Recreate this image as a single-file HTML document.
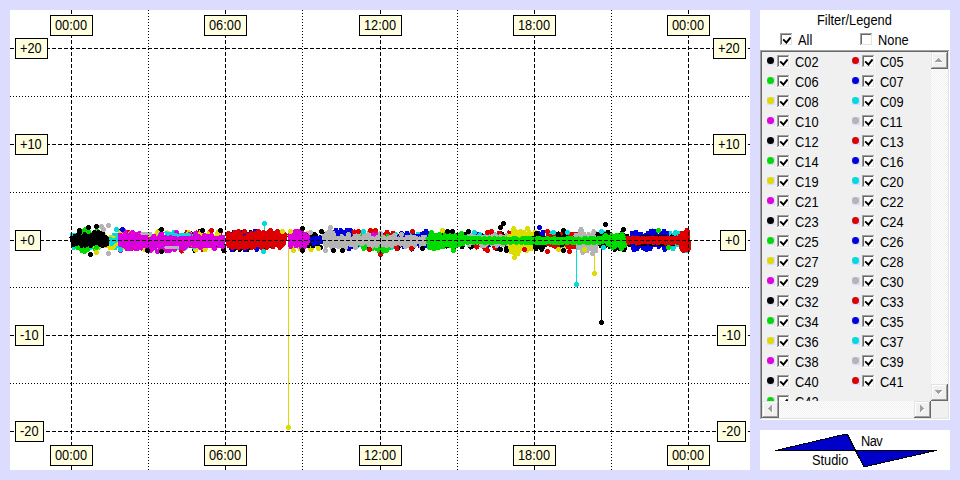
<!DOCTYPE html>
<html><head><meta charset="utf-8"><title>Nav Studio</title>
<style>
html,body{margin:0;padding:0}
body{width:960px;height:480px;background:#dcdcff;position:relative;overflow:hidden;font-family:"Liberation Sans",sans-serif;font-size:14px;color:#000}
div,i,span{position:absolute;box-sizing:content-box;display:block;font-style:normal}
#plot{left:10px;top:10px;width:740px;height:460px;background:#fff}
#chart{position:absolute;left:0;top:0}
.lb{height:19px;line-height:19px;border:1px solid #000;background:#ffffe0;text-align:left;padding-left:4px;white-space:nowrap}
#side{left:760px;top:10px;width:190px;height:410px;background:#fff}
#nav{left:760px;top:430px;width:190px;height:40px;background:#fff}
.t{line-height:16px;height:16px;white-space:nowrap;transform:scaleX(.915);transform-origin:0 0}
.lb b{font-weight:normal;display:inline-block;transform:scaleX(.915);transform-origin:0 0}
.cb{width:13px;height:13px;background:#fff;box-shadow:inset -1px -1px 0 #fff,inset 1px 1px 0 #a0a0a0,inset -2px -2px 0 #e3e3e3,inset 2px 2px 0 #696969}
.ck{position:absolute;left:2px;top:2px}
#list{left:0;top:40px;width:190px;height:370px;background:#f0f0f0;box-shadow:inset -1px -1px 0 #fff,inset 1px 1px 0 #a0a0a0,inset -2px -2px 0 #e3e3e3,inset 2px 2px 0 #696969}
#cl{left:2px;top:2px;width:186px;height:366px}
#view{left:0;top:0;width:169px;height:349px;overflow:hidden}
.it{width:80px;height:16px}
.sq{left:0;top:2px;width:8px;height:8px;background:#dcdcff}
.dt{left:0;top:0;width:7px;height:7px;border-radius:50%}
.it .cb{left:10px;top:0}
.it span{left:28px;top:-1px;line-height:16px;transform:scaleX(.915);transform-origin:0 0}
.sbv{left:169px;top:0;width:17px;height:349px}
.sbh{left:0;top:349px;width:169px;height:17px}
.tr{background-color:#f8f8f8;background-image:linear-gradient(45deg,#f0f0f0 25%,transparent 25%,transparent 75%,#f0f0f0 75%),linear-gradient(45deg,#f0f0f0 25%,#fff 25%,#fff 75%,#f0f0f0 75%);background-size:2px 2px;background-position:0 0,1px 1px}
.bt{width:17px;height:17px;background:#f0f0f0;box-shadow:inset -1px -1px 0 #696969,inset 1px 1px 0 #e3e3e3,inset -2px -2px 0 #a0a0a0,inset 2px 2px 0 #fff}
.bt svg{position:absolute;left:1px;top:1px}
.cn{left:169px;top:349px;width:17px;height:17px;background:#f0f0f0}
</style></head><body>
<div id="plot"></div>
<svg id="chart" width="960" height="480" viewBox="0 0 960 480" shape-rendering="crispEdges">
<g fill="none" stroke-linejoin="round" stroke-linecap="round"><path d="M288 245h1v182h-1zM287 425h3v1h1v3h-1v1h-3v-1h-1v-3h1z" fill="#dcdc00" stroke="none"/><path d="M576 248h1v36.5h-1zM575 282h3v1h1v3h-1v1h-3v-1h-1v-3h1z" fill="#00dcdc" stroke="none"/><path d="M594 248h1v25.5h-1zM593 271h3v1h1v3h-1v1h-3v-1h-1v-3h1z" fill="#dcdc00" stroke="none"/><path d="M601 248h1v74.5h-1zM600 320h3v1h1v3h-1v1h-3v-1h-1v-3h1z" fill="#000000" stroke="none"/><path d="M264 223h1v13h-1zM263 221h3v1h1v3h-1v1h-3v-1h-1v-3h1z" fill="#00dcdc" stroke="none"/><path d="M72,235 74,247.5 76,235.5 77,246 78,239 79,247 81,238 83,247 85,235 86,245.5 88,238 90,248 91,238 92,245 94,239 95,244.5 97,238 99,247.5 101,235.5 102,244 104,238 106,244.5 107,239.5 109,246 110,239.5 112,247.5 114,235.5 115,248 117,235.5 119,246" stroke="#00dcdc" stroke-width="5"/><path d="M76,237 78,247.5 80,237 82,251 83,231.5 85,251 87,235.5 89,246.5 90,233.5 92,245 94,235 95,248.5 97,231" stroke="#00dc00" stroke-width="5"/><path d="M94,233 96,247.5 97,237 98,247.5 100,234 102,244.5 103,233.5 104,245.5 105,236.5 107,246 108,238 110,247.5 111,237 113,247.5 115,238 117,243.5" stroke="#dcdc00" stroke-width="5"/><path d="M110,239.5 112,243.5 113,240 115,241 117,239" stroke="#00dcdc" stroke-width="5"/><path d="M120,231 126,245 131,237 135,244.5 140,235.5 144,247.5 150,235 155,245.5 159,231 165,248.5 171,236 176,248.5 179,236 184,247 191,234 195,250.5 200,231.5 204,247.5 209,237.5 214,246.5 219,233 224,251" stroke="#000000" stroke-width="5"/><path d="M128,232.5 133,247.5 138,237.5 142,248 146,236.5 152,245 156,236.5 161,247 167,238 172,245 176,238 182,251 187,232.5 191,245.5 197,233 203,250 209,233 214,244.5 220,232.5" stroke="#dc0000" stroke-width="5"/><path d="M120,232 125,248 130,234 135,246 138,237.5 145,249.5 148,235 152,244 158,232 164,245 168,233 173,249 178,234.5 184,249 189,232.5 196,250 201,232 205,250 209,233 213,247.5 218,232.5 222,245.5" stroke="#dcdc00" stroke-width="5"/><path d="M152,237.5 156,244.5 160,235.5 164,242.5 167,236.5 172,244.5 174,232 179,248 182,237 186,247.5 190,234.5 194,247" stroke="#00dcdc" stroke-width="5"/><path d="M228,235 234,249.5 236,236 240,249.5 243,232 247,250 251,232.5 255,245 259,235.5 263,247.5 267,234 272,245.5 277,234.5 281,244.5 285,236.5" stroke="#000000" stroke-width="5"/><path d="M230,236 232,250 234,232 236,245 238,233 241,245.5 243,233.5 245,250 247,234 249,246 251,236 253,245 255,231.5 257,249.5 258,231.5 261,245 262,235" stroke="#0000dc" stroke-width="5"/><path d="M272,234 276,243 279,237.5" stroke="#dcdc00" stroke-width="5"/><path d="M290,236 293,247 296,233.5 300,249 303,237.5 305,246 308,233.5 311,250 313,234 315,244.5" stroke="#dcdc00" stroke-width="5"/><path d="M298,237 302,248.5 305,236.5 308,246 310,233 313,246 315,234.5 318,243.5 321,237.5" stroke="#000000" stroke-width="5"/><path d="M342,238 345,244.5 349,237 352,245.5 355,234.5 359,245 363,234.5 366,248 369,237.5 372,243 375,234 378,248 381,234.5 385,245 389,237 392,247.5 396,234.5 400,245.5 403,234.5 406,243.5 411,234 415,244.5 418,234.5 423,243.5" stroke="#00dcdc" stroke-width="5"/><path d="M324,234 327,244.5 332,238 336,245 338,237 343,246 345,235 349,249 353,237.5 356,247 359,239 363,245.5 366,235 370,249 373,237.5 376,244 379,234.5 382,246.5 386,237.5 389,246 393,234.5 398,248 401,234.5 404,244 407,236.5 412,249 414,239 418,243.5 423,234" stroke="#000000" stroke-width="5"/><path d="M332,232 334,246 336,230 337,243.5 338,233 340,244 341,230.5 343,247 344,232 346,244.5 347,230 349,249 351,230.5 353,246.5" stroke="#0000dc" stroke-width="5"/><path d="M386,234 388,242.5 390,236 392,242 394,236.5 396,242 398,237.5 400,243 402,233.5 404,246.5 407,233 408,243.5 411,237.5 412,246.5 414,235.5 416,242.5 418,236 420,245.5 422,234 425,246 426,231.5 428,245.5 431,234 433,241 435,236.5 437,244" stroke="#0000dc" stroke-width="5"/><path d="M354,232 359,243.5 362,236 365,243.5 368,236.5 371,246.5 374,232.5 377,249 381,234.5 384,248 387,232 391,244.5 393,233 397,248.5" stroke="#dc0000" stroke-width="5"/><path d="M358,233.5 360,243.5 362,235.5 364,248.5 366,238 367,245 369,233.5 370,246.5 372,237 373,248.5 375,233.5 377,248.5 378,239.5 380,253 382,238 383,251.5 385,238.5 387,250.5 388,236.5 389,248" stroke="#00dc00" stroke-width="5"/><path d="M372,233.5 374,235 376,234.5 377,235.5 379,234.5" stroke="#dc00dc" stroke-width="5"/><path d="M442,235 447,246 451,236.5 455,246.5 458,235.5 462,247 466,234 471,247 475,238.5 478,243.5 482,235.5 487,243.5 492,234 497,248.5 502,234 506,246.5" stroke="#000000" stroke-width="5"/><path d="M472,236.5 476,245 478,234 482,243.5 485,236.5 489,245 493,237.5 497,247 501,238.5 504,244.5 507,237.5 510,246 514,235 519,244 522,234 525,244.5" stroke="#0000dc" stroke-width="5"/><path d="M472,235.5 477,247 480,235.5 485,248.5 490,233.5 495,248 499,233 505,244 509,233" stroke="#dc0000" stroke-width="5"/><path d="M468,237 474,242.5 480,235 483,244 487,235 491,242.5 495,234.5" stroke="#00dcdc" stroke-width="5"/><path d="M442,239 444,242 444,239 446,243.5 447,239 449,242.5 450,236 451,241.5 453,238.5 454,242.5 455,239 456,243.5 457,238.5 459,243 461,237.5 462,242.5 464,238 465,242 466,238 468,242.5 469,237 469,245 471,235 472,242.5 473,237 474,242 476,237 478,242 479,237 479,242 481,238 482,246 484,237 485,245.5 486,237.5 487,243 489,236.5 490,242 491,237.5 492,244 494,234.5 495,241.5 496,237.5 497,245.5 498,237 500,243.5 501,236.5 503,245 504,237.5 506,243 507,235.5 508,243.5" stroke="#b4b4b4" stroke-width="5"/><path d="M522,234.5 526,248.5 528,236 531,248.5 533,236 536,248.5 539,233.5 541,246 543,232" stroke="#0000dc" stroke-width="5"/><path d="M524,232 527,250.5 529,232 532,248.5 535,232.5" stroke="#dcdc00" stroke-width="5"/><path d="M534,238 536,249 537,233.5 538,245 540,237.5 542,249.5 543,238.5 545,245" stroke="#000000" stroke-width="5"/><path d="M550,234 555,243 559,237 562,246 565,237.5 569,244 572,237" stroke="#00dcdc" stroke-width="5"/><path d="M552,240 557,244.5 561,240 565,246.5" stroke="#dcdc00" stroke-width="5"/><path d="M548,236.5 548,244 550,237 551,244.5 553,234.5 554,245.5 555,234 556,247 558,234.5 559,247 560,236.5 561,244.5 562,234.5 563,244.5 565,234.5 566,243.5 567,234 568,246.5 570,236 571,246.5 572,234.5 573,247 574,234.5 575,246.5 577,234.5 578,245.5" stroke="#dc0000" stroke-width="5"/><path d="M558,234 562,245 566,232" stroke="#000000" stroke-width="5"/><path d="M582,240 584,246 585,240.5 587,245.5 589,239.5" stroke="#dcdc00" stroke-width="5"/><path d="M576,235.5 579,247.5 581,229 583,252.5 584,234 587,251 589,234.5 592,249 594,231.5 596,251" stroke="#b4b4b4" stroke-width="5"/><path d="M600,236.5 603,244 606,233" stroke="#00dcdc" stroke-width="5"/><path d="M598,234.5 601,246 603,234 606,245.5 608,232 610,247 612,236 615,249.5 617,236 620,249 622,233 624,250 627,236 630,245 632,236 634,247 637,236.5" stroke="#000000" stroke-width="5"/><path d="M652,231 658,243.5 663,236 668,247.5" stroke="#00dc00" stroke-width="5"/><path d="M670,233.5 673,249 675,233 678,245 680,233.5 682,245 684,235.5 687,251 688,234" stroke="#00dcdc" stroke-width="5"/><path d="M632,233.5 634,250 636,232 637,249 639,236.5 640,245 641,234 643,248 644,236.5 645,249 646,235 647,249.5 648,233.5 650,249 651,231.5 653,244.5 655,231 656,244.5 658,237.5 659,246.5 661,234.5 662,244 664,231 665,249.5 667,233" stroke="#0000dc" stroke-width="5"/><path d="M636,239 638,244 640,239 641,244 643,237 645,244 647,237.5 648,242 649,237 651,244 653,238.5 654,243.5 656,237 657,243 658,237 660,243.5 662,237.5 664,244 665,237 667,242.5 668,238 670,242 672,237 673,244 674,239 675,242 677,238 678,243 679,239 681,243 682,239 683,244 685,239 686,244" stroke="#000000" stroke-width="5"/><path d="M680,236.5 682,249 684,233.5 685,247.5 687,230 688,249.5" stroke="#dc0000" stroke-width="5"/><path d="M72,238 74,244.5 75,236.5 77,243.5 78,235.5 79,243 81,237 82,245.5 83,237.5 84,243.5 85,234.5 86,245.5 87,235.5 88,244 90,236.5 91,245.5 92,235.5 94,244 95,236 96,244.5 97,237 98,245 99,235 100,245 101,235 103,245.5 104,237 105,245 106,237.5 107,244" stroke="#000000" stroke-width="5"/><path d="M72 242h3v1h1v3h-1v1h-3v-1h-1v-3h1zM78 230h3v1h1v3h-1v1h-3v-1h-1v-3h1zM86 232h3v1h1v3h-1v1h-3v-1h-1v-3h1zM93 230h3v1h1v3h-1v1h-3v-1h-1v-3h1zM97 230h3v1h1v3h-1v1h-3v-1h-1v-3h1zM101 231h3v1h1v3h-1v1h-3v-1h-1v-3h1z" fill="#000000" stroke="none"/><path d="M120,235.5 121,246 122,238.5 123,246 125,234.5 127,249 128,235 130,249 131,234.5 131,248.5 133,234.5 134,245 135,238 136,248.5 137,234 138,248.5 140,234.5 141,248 143,234.5 145,246 146,237 147,248 149,239 151,247 152,239 153,248.5 154,236 155,247.5 156,238.5 158,245 160,236 161,249.5 162,239.5 164,250 165,237 166,248 167,238 169,249 170,235 171,248.5 172,235.5 173,245 175,235.5 176,244 177,235 178,245 180,235.5 181,247 183,236 184,245 185,238 186,246.5 187,235.5 189,245 190,236 191,243.5 193,238.5 194,246 196,237 197,246 199,236.5 200,246 202,238 203,246 204,236 205,245.5 207,236 208,246 209,237.5 211,245.5 212,238 214,244.5 215,238.5 216,243.5 218,238.5 219,245.5 221,237 222,244 223,237" stroke="#dc00dc" stroke-width="5"/><path d="M119 248h3v1h1v3h-1v1h-3v-1h-1v-3h1zM123 229h3v1h1v3h-1v1h-3v-1h-1v-3h1zM131 230h3v1h1v3h-1v1h-3v-1h-1v-3h1zM138 231h3v1h1v3h-1v1h-3v-1h-1v-3h1zM146 247h3v1h1v3h-1v1h-3v-1h-1v-3h1zM149 248h3v1h1v3h-1v1h-3v-1h-1v-3h1zM156 249h3v1h1v3h-1v1h-3v-1h-1v-3h1zM160 231h3v1h1v3h-1v1h-3v-1h-1v-3h1zM165 248h3v1h1v3h-1v1h-3v-1h-1v-3h1zM168 248h3v1h1v3h-1v1h-3v-1h-1v-3h1zM173 247h3v1h1v3h-1v1h-3v-1h-1v-3h1zM175 230h3v1h1v3h-1v1h-3v-1h-1v-3h1zM179 245h3v1h1v3h-1v1h-3v-1h-1v-3h1zM182 246h3v1h1v3h-1v1h-3v-1h-1v-3h1zM188 232h3v1h1v3h-1v1h-3v-1h-1v-3h1zM194 231h3v1h1v3h-1v1h-3v-1h-1v-3h1zM199 245h3v1h1v3h-1v1h-3v-1h-1v-3h1zM203 233h3v1h1v3h-1v1h-3v-1h-1v-3h1zM210 233h3v1h1v3h-1v1h-3v-1h-1v-3h1zM213 246h3v1h1v3h-1v1h-3v-1h-1v-3h1zM219 243h3v1h1v3h-1v1h-3v-1h-1v-3h1zM221 244h3v1h1v3h-1v1h-3v-1h-1v-3h1z" fill="#dc00dc" stroke="none"/><path d="M166,232.5 168,234.5 170,233 173,234.5 175,234 178,235.5 181,234 184,234 187,234 190,235" stroke="#00dcdc" stroke-width="3"/><path d="M142,233.5 143,233.5 145,233.5 146,233.5 148,233.5 149,233.5 151,233.5" stroke="#b4b4b4" stroke-width="3"/><path d="M166,247.5 168,247.5 169,247.5 171,247.5 172,247.5 174,247.5 175,247.5 177,247.5 178,247.5" stroke="#b4b4b4" stroke-width="3"/><path d="M228,235.5 229,246 230,234.5 231,243.5 232,236 234,244 235,232.5 237,246.5 238,235.5 239,247.5 240,233.5 242,247 243,238 245,247.5 246,237.5 247,247 248,235 249,245.5 250,238 252,247.5 253,234.5 254,247 256,234.5 257,245 258,236.5 259,243.5 260,234 262,247.5 263,235.5 264,245.5 266,233.5 267,247.5 269,233.5 270,243 272,232.5 273,247 275,233.5 276,243.5 277,238 278,245 279,234 280,247.5 282,236 283,244.5 285,234.5" stroke="#dc0000" stroke-width="5"/><path d="M227 231h3v1h1v3h-1v1h-3v-1h-1v-3h1zM231 245h3v1h1v3h-1v1h-3v-1h-1v-3h1zM237 229h3v1h1v3h-1v1h-3v-1h-1v-3h1zM243 229h3v1h1v3h-1v1h-3v-1h-1v-3h1zM250 231h3v1h1v3h-1v1h-3v-1h-1v-3h1zM254 231h3v1h1v3h-1v1h-3v-1h-1v-3h1zM257 229h3v1h1v3h-1v1h-3v-1h-1v-3h1zM262 230h3v1h1v3h-1v1h-3v-1h-1v-3h1zM267 230h3v1h1v3h-1v1h-3v-1h-1v-3h1zM269 228h3v1h1v3h-1v1h-3v-1h-1v-3h1zM276 229h3v1h1v3h-1v1h-3v-1h-1v-3h1z" fill="#dc0000" stroke="none"/><path d="M290,235.5 291,246.5 292,234.5 294,242 295,233.5 296,246 298,233.5 299,242 300,237.5 301,246.5 303,234 304,246 305,234 307,243 308,236.5" stroke="#dc00dc" stroke-width="5"/><path d="M289 230h3v1h1v3h-1v1h-3v-1h-1v-3h1zM294 229h3v1h1v3h-1v1h-3v-1h-1v-3h1zM297 229h3v1h1v3h-1v1h-3v-1h-1v-3h1zM300 230h3v1h1v3h-1v1h-3v-1h-1v-3h1zM303 244h3v1h1v3h-1v1h-3v-1h-1v-3h1z" fill="#dc00dc" stroke="none"/><path d="M312,240 314,243.5 315,238.5 316,242 318,238.5 319,242.5 320,238.5 321,242" stroke="#0000dc" stroke-width="5"/><path d="M324,236 326,246 327,233 329,244.5 330,230.5 332,248 333,233.5 335,245.5 336,238.5 337,246 339,238 340,246 342,236.5 343,245.5 344,239 345,246 346,238.5 348,244 349,238 351,245 352,239 353,243.5 355,236 356,244.5 357,237 359,242.5 360,238 362,244 363,238 365,242 366,237 367,242 368,239 369,244.5 371,238 372,244 373,238.5 374,244.5 376,239 377,243 378,237 380,243 381,239 382,244.5 384,237.5 385,244.5 386,239 387,244 389,238.5 390,244 391,237 393,244.5 394,237 395,244 397,239.5 398,242 399,239 401,244 402,239.5 404,243.5 405,239 406,242 407,237 409,244 410,237 411,243.5 412,237.5 413,244 415,237.5 416,242 417,238.5 419,241.5 420,239 421,243.5 423,237 424,244 425,237.5" stroke="#b4b4b4" stroke-width="5"/><path d="M324 248h3v1h1v3h-1v1h-3v-1h-1v-3h1zM329 225h3v1h1v3h-1v1h-3v-1h-1v-3h1zM337 244h3v1h1v3h-1v1h-3v-1h-1v-3h1zM344 245h3v1h1v3h-1v1h-3v-1h-1v-3h1zM347 232h3v1h1v3h-1v1h-3v-1h-1v-3h1zM354 245h3v1h1v3h-1v1h-3v-1h-1v-3h1zM357 231h3v1h1v3h-1v1h-3v-1h-1v-3h1zM363 232h3v1h1v3h-1v1h-3v-1h-1v-3h1zM367 232h3v1h1v3h-1v1h-3v-1h-1v-3h1zM370 244h3v1h1v3h-1v1h-3v-1h-1v-3h1zM375 243h3v1h1v3h-1v1h-3v-1h-1v-3h1zM379 231h3v1h1v3h-1v1h-3v-1h-1v-3h1zM385 243h3v1h1v3h-1v1h-3v-1h-1v-3h1zM390 243h3v1h1v3h-1v1h-3v-1h-1v-3h1zM393 233h3v1h1v3h-1v1h-3v-1h-1v-3h1zM400 232h3v1h1v3h-1v1h-3v-1h-1v-3h1zM404 244h3v1h1v3h-1v1h-3v-1h-1v-3h1zM409 244h3v1h1v3h-1v1h-3v-1h-1v-3h1zM413 243h3v1h1v3h-1v1h-3v-1h-1v-3h1zM420 244h3v1h1v3h-1v1h-3v-1h-1v-3h1z" fill="#b4b4b4" stroke="none"/><path d="M428,239 430,246.5 431,234.5 433,244 434,237 435,248.5 436,235 438,248 439,235 440,247 441,237 443,247 444,237.5 445,244.5 447,235.5 448,245 449,235.5 451,245.5 452,235 453,247.5 455,235.5 456,246 457,237 459,245 460,235.5 461,244 462,238.5 463,244 465,237.5" stroke="#00dc00" stroke-width="5"/><path d="M428 245h3v1h1v3h-1v1h-3v-1h-1v-3h1zM430 230h3v1h1v3h-1v1h-3v-1h-1v-3h1zM432 246h3v1h1v3h-1v1h-3v-1h-1v-3h1zM438 232h3v1h1v3h-1v1h-3v-1h-1v-3h1zM444 231h3v1h1v3h-1v1h-3v-1h-1v-3h1zM452 248h3v1h1v3h-1v1h-3v-1h-1v-3h1zM460 231h3v1h1v3h-1v1h-3v-1h-1v-3h1z" fill="#00dc00" stroke="none"/><path d="M466,239 468,242.5 469,238.5 470,242 471,238.5 472,242 473,239 474,242.5 475,238.5 477,242 478,238.5 479,242 480,238.5 481,241.5 483,240 484,242 485,238.5 486,242.5 487,239 488,242 490,238.5 491,242.5 492,239 493,242.5 495,238.5 495,241.5 497,240 498,241.5 499,239 500,241.5 501,239.5 502,242 504,238.5 505,242.5 506,239.5 507,241.5 508,238.5 509,241.5 511,239 512,241.5 513,238.5 514,242.5 515,238.5 516,241.5 517,238.5 518,242.5 520,239 521,242.5 522,238.5 522,242.5 523,238.5 525,242.5 526,238.5 528,242 529,238.5 530,242.5 531,239 532,241.5 533,239.5 535,242 535,239 537,242.5 538,238.5 539,242.5 540,238.5 541,242.5 543,239.5 544,242.5 545,239.5 546,242.5 548,238.5 549,242 550,239.5 551,242 552,239.5 554,242.5 555,238.5 556,242.5 557,239.5 558,242.5 560,239.5 561,242.5 562,239 563,242.5 564,239 566,242 567,239 568,242.5 569,238.5 571,241.5 572,238.5 573,242.5 574,239 575,242.5 577,239.5 578,242 579,239 580,242.5 581,240 582,242 584,239 585,242 586,238.5 587,242.5 588,239 590,242.5 591,238.5 593,242 594,238.5 595,242.5 596,239 598,241 599,238.5 600,242.5 601,238.5 602,242 603,238.5" stroke="#00dc00" stroke-width="5"/><path d="M604,237.5 605,241 607,238.5 608,244 609,237 610,245 612,235.5 613,242.5 614,236.5 615,245 617,235 618,245 619,238 620,246 622,234 623,245 624,238 625,244" stroke="#00dc00" stroke-width="5"/><path d="M604 233h3v1h1v3h-1v1h-3v-1h-1v-3h1zM611 245h3v1h1v3h-1v1h-3v-1h-1v-3h1zM613 244h3v1h1v3h-1v1h-3v-1h-1v-3h1zM620 246h3v1h1v3h-1v1h-3v-1h-1v-3h1zM623 243h3v1h1v3h-1v1h-3v-1h-1v-3h1z" fill="#00dc00" stroke="none"/><path d="M510,236.5 511,252 512,237 513,248.5 514,228.5 515,254.5 517,232 518,254 519,232 520,247.5 521,231.5 523,246.5 524,235" stroke="#dcdc00" stroke-width="5"/><path d="M509 247h3v1h1v3h-1v1h-3v-1h-1v-3h1zM513 255h3v1h1v3h-1v1h-3v-1h-1v-3h1zM520 246h3v1h1v3h-1v1h-3v-1h-1v-3h1z" fill="#dcdc00" stroke="none"/><path d="M502,239.5 503,242 504,239.5 506,242.5 507,239.5 509,241.5 510,239.5 511,242.5 513,239 514,242 516,238.5 517,242.5 518,239.5 519,241.5 521,239.5 522,242.5 523,238.5 525,242 526,238.5 527,242.5 528,238.5 530,241.5 531,238.5 532,242.5" stroke="#00dc00" stroke-width="5"/><path d="M628,238 629,242.5 630,239 631,242 633,238 634,241.5 635,238.5 637,243 638,238 639,243 640,239 642,241.5 643,238 644,242 645,239 647,241.5 648,238 649,242 650,238 651,241.5 652,238 654,242.5 655,238.5 656,242 657,238.5 658,243 660,239 661,242 662,238 663,241.5 664,238 666,243 667,238 668,243 669,238 671,243 672,238 673,243 674,238 675,242 677,238 678,243 680,238.5 681,242 682,238.5 683,243 684,238 685,243 687,239" stroke="#dc0000" stroke-width="5"/><path d="M682,233.5 684,243 685,236.5 686,244 687,232 689,247.5" stroke="#dc0000" stroke-width="5"/><path d="M682 248h3v1h1v3h-1v1h-3v-1h-1v-3h1z" fill="#dc0000" stroke="none"/><path d="M84 227h3v1h1v3h-1v1h-3v-1h-1v-3h1zM87 229h3v1h1v3h-1v1h-3v-1h-1v-3h1zM83 249h3v1h1v3h-1v1h-3v-1h-1v-3h1zM86 247h3v1h1v3h-1v1h-3v-1h-1v-3h1zM95 245h3v1h1v3h-1v1h-3v-1h-1v-3h1zM657 228h3v1h1v3h-1v1h-3v-1h-1v-3h1zM667 245h3v1h1v3h-1v1h-3v-1h-1v-3h1z" fill="#00dc00" stroke="none"/><path d="M78 228h3v1h1v3h-1v1h-3v-1h-1v-3h1zM87 225h3v1h1v3h-1v1h-3v-1h-1v-3h1zM95 224h3v1h1v3h-1v1h-3v-1h-1v-3h1zM89 252h3v1h1v3h-1v1h-3v-1h-1v-3h1zM160 227h3v1h1v3h-1v1h-3v-1h-1v-3h1zM160 249h3v1h1v3h-1v1h-3v-1h-1v-3h1zM146 248h3v1h1v3h-1v1h-3v-1h-1v-3h1zM201 228h3v1h1v3h-1v1h-3v-1h-1v-3h1zM219 228h3v1h1v3h-1v1h-3v-1h-1v-3h1zM301 226h3v1h1v3h-1v1h-3v-1h-1v-3h1zM301 248h3v1h1v3h-1v1h-3v-1h-1v-3h1zM320 229h3v1h1v3h-1v1h-3v-1h-1v-3h1zM319 245h3v1h1v3h-1v1h-3v-1h-1v-3h1zM332 248h3v1h1v3h-1v1h-3v-1h-1v-3h1zM341 248h3v1h1v3h-1v1h-3v-1h-1v-3h1zM502 221h3v1h1v3h-1v1h-3v-1h-1v-3h1zM499 225h3v1h1v3h-1v1h-3v-1h-1v-3h1zM604 222h3v1h1v3h-1v1h-3v-1h-1v-3h1zM622 227h3v1h1v3h-1v1h-3v-1h-1v-3h1zM446 229h3v1h1v3h-1v1h-3v-1h-1v-3h1zM451 229h3v1h1v3h-1v1h-3v-1h-1v-3h1zM467 229h3v1h1v3h-1v1h-3v-1h-1v-3h1zM562 248h3v1h1v3h-1v1h-3v-1h-1v-3h1zM562 228h3v1h1v3h-1v1h-3v-1h-1v-3h1zM499 247h3v1h1v3h-1v1h-3v-1h-1v-3h1zM505 248h3v1h1v3h-1v1h-3v-1h-1v-3h1zM421 246h3v1h1v3h-1v1h-3v-1h-1v-3h1z" fill="#000000" stroke="none"/><path d="M100 224h3v1h1v3h-1v1h-3v-1h-1v-3h1zM107 223h3v1h1v3h-1v1h-3v-1h-1v-3h1zM102 227h3v1h1v3h-1v1h-3v-1h-1v-3h1zM107 251h3v1h1v3h-1v1h-3v-1h-1v-3h1zM309 230h3v1h1v3h-1v1h-3v-1h-1v-3h1z" fill="#b4b4b4" stroke="none"/><path d="M95 250h3v1h1v3h-1v1h-3v-1h-1v-3h1zM281 229h3v1h1v3h-1v1h-3v-1h-1v-3h1zM289 229h3v1h1v3h-1v1h-3v-1h-1v-3h1zM292 248h3v1h1v3h-1v1h-3v-1h-1v-3h1zM317 246h3v1h1v3h-1v1h-3v-1h-1v-3h1zM441 228h3v1h1v3h-1v1h-3v-1h-1v-3h1zM526 226h3v1h1v3h-1v1h-3v-1h-1v-3h1zM557 247h3v1h1v3h-1v1h-3v-1h-1v-3h1zM583 247h3v1h1v3h-1v1h-3v-1h-1v-3h1z" fill="#dcdc00" stroke="none"/><path d="M115 227h3v1h1v3h-1v1h-3v-1h-1v-3h1zM119 247h3v1h1v3h-1v1h-3v-1h-1v-3h1zM262 249h3v1h1v3h-1v1h-3v-1h-1v-3h1zM362 229h3v1h1v3h-1v1h-3v-1h-1v-3h1zM473 230h3v1h1v3h-1v1h-3v-1h-1v-3h1zM552 230h3v1h1v3h-1v1h-3v-1h-1v-3h1zM566 230h3v1h1v3h-1v1h-3v-1h-1v-3h1zM600 229h3v1h1v3h-1v1h-3v-1h-1v-3h1zM602 245h3v1h1v3h-1v1h-3v-1h-1v-3h1zM674 230h3v1h1v3h-1v1h-3v-1h-1v-3h1z" fill="#00dcdc" stroke="none"/><path d="M121 227h3v1h1v3h-1v1h-3v-1h-1v-3h1zM538 225h3v1h1v3h-1v1h-3v-1h-1v-3h1z" fill="#0000dc" stroke="none"/><path d="M210 228h3v1h1v3h-1v1h-3v-1h-1v-3h1zM357 229h3v1h1v3h-1v1h-3v-1h-1v-3h1zM369 228h3v1h1v3h-1v1h-3v-1h-1v-3h1zM374 228h3v1h1v3h-1v1h-3v-1h-1v-3h1zM368 247h3v1h1v3h-1v1h-3v-1h-1v-3h1zM379 252h3v1h1v3h-1v1h-3v-1h-1v-3h1zM411 229h3v1h1v3h-1v1h-3v-1h-1v-3h1zM410 246h3v1h1v3h-1v1h-3v-1h-1v-3h1zM486 230h3v1h1v3h-1v1h-3v-1h-1v-3h1zM490 229h3v1h1v3h-1v1h-3v-1h-1v-3h1zM486 248h3v1h1v3h-1v1h-3v-1h-1v-3h1zM546 229h3v1h1v3h-1v1h-3v-1h-1v-3h1zM546 249h3v1h1v3h-1v1h-3v-1h-1v-3h1zM568 249h3v1h1v3h-1v1h-3v-1h-1v-3h1zM523 247h3v1h1v3h-1v1h-3v-1h-1v-3h1z" fill="#dc0000" stroke="none"/><path d="M591 251h3v1h1v3h-1v1h-3v-1h-1v-3h1z" fill="#b4b4b4" stroke="none"/></g>
<g><line x1="10" x2="750" y1="48.5" y2="48.5" stroke="#000" stroke-width="1" stroke-dasharray="4 2"/><line x1="10" x2="750" y1="144.5" y2="144.5" stroke="#000" stroke-width="1" stroke-dasharray="4 2"/><line x1="10" x2="750" y1="240.5" y2="240.5" stroke="#000" stroke-width="1" stroke-dasharray="4 2"/><line x1="10" x2="750" y1="335.5" y2="335.5" stroke="#000" stroke-width="1" stroke-dasharray="4 2"/><line x1="10" x2="750" y1="431.5" y2="431.5" stroke="#000" stroke-width="1" stroke-dasharray="4 2"/><line x1="10" x2="750" y1="96.5" y2="96.5" stroke="#000" stroke-width="1" stroke-dasharray="1 2"/><line x1="10" x2="750" y1="192.5" y2="192.5" stroke="#000" stroke-width="1" stroke-dasharray="1 2"/><line x1="10" x2="750" y1="287.5" y2="287.5" stroke="#000" stroke-width="1" stroke-dasharray="1 2"/><line x1="10" x2="750" y1="383.5" y2="383.5" stroke="#000" stroke-width="1" stroke-dasharray="1 2"/><line y1="10" y2="470" x1="71.5" x2="71.5" stroke="#000" stroke-width="1" stroke-dasharray="4 2"/><line y1="10" y2="470" x1="225.5" x2="225.5" stroke="#000" stroke-width="1" stroke-dasharray="4 2"/><line y1="10" y2="470" x1="380.5" x2="380.5" stroke="#000" stroke-width="1" stroke-dasharray="4 2"/><line y1="10" y2="470" x1="534.5" x2="534.5" stroke="#000" stroke-width="1" stroke-dasharray="4 2"/><line y1="10" y2="470" x1="688.5" x2="688.5" stroke="#000" stroke-width="1" stroke-dasharray="4 2"/><line y1="10" y2="470" x1="148.5" x2="148.5" stroke="#000" stroke-width="1" stroke-dasharray="1 2"/><line y1="10" y2="470" x1="302.5" x2="302.5" stroke="#000" stroke-width="1" stroke-dasharray="1 2"/><line y1="10" y2="470" x1="457.5" x2="457.5" stroke="#000" stroke-width="1" stroke-dasharray="1 2"/><line y1="10" y2="470" x1="611.5" x2="611.5" stroke="#000" stroke-width="1" stroke-dasharray="1 2"/></g>
</svg>
<div class="lb" style="left:50px;top:15px;width:37px"><b>00:00</b></div><div class="lb" style="left:50px;top:445px;width:37px"><b>00:00</b></div><div class="lb" style="left:204px;top:15px;width:37px"><b>06:00</b></div><div class="lb" style="left:204px;top:445px;width:37px"><b>06:00</b></div><div class="lb" style="left:359px;top:15px;width:37px"><b>12:00</b></div><div class="lb" style="left:359px;top:445px;width:37px"><b>12:00</b></div><div class="lb" style="left:513px;top:15px;width:37px"><b>18:00</b></div><div class="lb" style="left:513px;top:445px;width:37px"><b>18:00</b></div><div class="lb" style="left:667px;top:15px;width:37px"><b>00:00</b></div><div class="lb" style="left:667px;top:445px;width:37px"><b>00:00</b></div><div class="lb" style="left:15px;top:38px;width:27px"><b>+20</b></div><div class="lb" style="left:713px;top:38px;width:27px"><b>+20</b></div><div class="lb" style="left:15px;top:134px;width:27px"><b>+10</b></div><div class="lb" style="left:713px;top:134px;width:27px"><b>+10</b></div><div class="lb" style="left:15px;top:230px;width:20px"><b>+0</b></div><div class="lb" style="left:720px;top:230px;width:20px"><b>+0</b></div><div class="lb" style="left:15px;top:325px;width:23px"><b>-10</b></div><div class="lb" style="left:717px;top:325px;width:23px"><b>-10</b></div><div class="lb" style="left:15px;top:421px;width:23px"><b>-20</b></div><div class="lb" style="left:717px;top:421px;width:23px"><b>-20</b></div>
<div id="side">
 <div class="t" style="left:57px;top:2px">Filter/Legend</div>
 <i class="cb" style="left:20px;top:23px"><svg class="ck" width="9" height="9" viewBox="0 0 9 9"><path d="M1.2 4.4 L4.4 7.6 L8.6 2.4" stroke="#000" stroke-width="2" fill="none"/></svg></i><div class="t" style="left:38px;top:22px">All</div>
 <i class="cb" style="left:100px;top:23px"></i><div class="t" style="left:118px;top:22px">None</div>
 <div id="list"><div id="cl">
  <div id="view"><div class="it" style="left:5px;top:3px"><i class="sq"><i class="dt" style="background:#000000"></i></i><i class="cb"><svg class="ck" width="9" height="9" viewBox="0 0 9 9"><path d="M1.2 4.4 L4.4 7.6 L8.6 2.4" stroke="#000" stroke-width="2" fill="none"/></svg></i><span>C02</span></div><div class="it" style="left:90px;top:3px"><i class="sq"><i class="dt" style="background:#dc0000"></i></i><i class="cb"><svg class="ck" width="9" height="9" viewBox="0 0 9 9"><path d="M1.2 4.4 L4.4 7.6 L8.6 2.4" stroke="#000" stroke-width="2" fill="none"/></svg></i><span>C05</span></div><div class="it" style="left:5px;top:23px"><i class="sq"><i class="dt" style="background:#00dc00"></i></i><i class="cb"><svg class="ck" width="9" height="9" viewBox="0 0 9 9"><path d="M1.2 4.4 L4.4 7.6 L8.6 2.4" stroke="#000" stroke-width="2" fill="none"/></svg></i><span>C06</span></div><div class="it" style="left:90px;top:23px"><i class="sq"><i class="dt" style="background:#0000dc"></i></i><i class="cb"><svg class="ck" width="9" height="9" viewBox="0 0 9 9"><path d="M1.2 4.4 L4.4 7.6 L8.6 2.4" stroke="#000" stroke-width="2" fill="none"/></svg></i><span>C07</span></div><div class="it" style="left:5px;top:43px"><i class="sq"><i class="dt" style="background:#dcdc00"></i></i><i class="cb"><svg class="ck" width="9" height="9" viewBox="0 0 9 9"><path d="M1.2 4.4 L4.4 7.6 L8.6 2.4" stroke="#000" stroke-width="2" fill="none"/></svg></i><span>C08</span></div><div class="it" style="left:90px;top:43px"><i class="sq"><i class="dt" style="background:#00dcdc"></i></i><i class="cb"><svg class="ck" width="9" height="9" viewBox="0 0 9 9"><path d="M1.2 4.4 L4.4 7.6 L8.6 2.4" stroke="#000" stroke-width="2" fill="none"/></svg></i><span>C09</span></div><div class="it" style="left:5px;top:63px"><i class="sq"><i class="dt" style="background:#dc00dc"></i></i><i class="cb"><svg class="ck" width="9" height="9" viewBox="0 0 9 9"><path d="M1.2 4.4 L4.4 7.6 L8.6 2.4" stroke="#000" stroke-width="2" fill="none"/></svg></i><span>C10</span></div><div class="it" style="left:90px;top:63px"><i class="sq"><i class="dt" style="background:#b4b4b4"></i></i><i class="cb"><svg class="ck" width="9" height="9" viewBox="0 0 9 9"><path d="M1.2 4.4 L4.4 7.6 L8.6 2.4" stroke="#000" stroke-width="2" fill="none"/></svg></i><span>C11</span></div><div class="it" style="left:5px;top:83px"><i class="sq"><i class="dt" style="background:#000000"></i></i><i class="cb"><svg class="ck" width="9" height="9" viewBox="0 0 9 9"><path d="M1.2 4.4 L4.4 7.6 L8.6 2.4" stroke="#000" stroke-width="2" fill="none"/></svg></i><span>C12</span></div><div class="it" style="left:90px;top:83px"><i class="sq"><i class="dt" style="background:#dc0000"></i></i><i class="cb"><svg class="ck" width="9" height="9" viewBox="0 0 9 9"><path d="M1.2 4.4 L4.4 7.6 L8.6 2.4" stroke="#000" stroke-width="2" fill="none"/></svg></i><span>C13</span></div><div class="it" style="left:5px;top:103px"><i class="sq"><i class="dt" style="background:#00dc00"></i></i><i class="cb"><svg class="ck" width="9" height="9" viewBox="0 0 9 9"><path d="M1.2 4.4 L4.4 7.6 L8.6 2.4" stroke="#000" stroke-width="2" fill="none"/></svg></i><span>C14</span></div><div class="it" style="left:90px;top:103px"><i class="sq"><i class="dt" style="background:#0000dc"></i></i><i class="cb"><svg class="ck" width="9" height="9" viewBox="0 0 9 9"><path d="M1.2 4.4 L4.4 7.6 L8.6 2.4" stroke="#000" stroke-width="2" fill="none"/></svg></i><span>C16</span></div><div class="it" style="left:5px;top:123px"><i class="sq"><i class="dt" style="background:#dcdc00"></i></i><i class="cb"><svg class="ck" width="9" height="9" viewBox="0 0 9 9"><path d="M1.2 4.4 L4.4 7.6 L8.6 2.4" stroke="#000" stroke-width="2" fill="none"/></svg></i><span>C19</span></div><div class="it" style="left:90px;top:123px"><i class="sq"><i class="dt" style="background:#00dcdc"></i></i><i class="cb"><svg class="ck" width="9" height="9" viewBox="0 0 9 9"><path d="M1.2 4.4 L4.4 7.6 L8.6 2.4" stroke="#000" stroke-width="2" fill="none"/></svg></i><span>C20</span></div><div class="it" style="left:5px;top:143px"><i class="sq"><i class="dt" style="background:#dc00dc"></i></i><i class="cb"><svg class="ck" width="9" height="9" viewBox="0 0 9 9"><path d="M1.2 4.4 L4.4 7.6 L8.6 2.4" stroke="#000" stroke-width="2" fill="none"/></svg></i><span>C21</span></div><div class="it" style="left:90px;top:143px"><i class="sq"><i class="dt" style="background:#b4b4b4"></i></i><i class="cb"><svg class="ck" width="9" height="9" viewBox="0 0 9 9"><path d="M1.2 4.4 L4.4 7.6 L8.6 2.4" stroke="#000" stroke-width="2" fill="none"/></svg></i><span>C22</span></div><div class="it" style="left:5px;top:163px"><i class="sq"><i class="dt" style="background:#000000"></i></i><i class="cb"><svg class="ck" width="9" height="9" viewBox="0 0 9 9"><path d="M1.2 4.4 L4.4 7.6 L8.6 2.4" stroke="#000" stroke-width="2" fill="none"/></svg></i><span>C23</span></div><div class="it" style="left:90px;top:163px"><i class="sq"><i class="dt" style="background:#dc0000"></i></i><i class="cb"><svg class="ck" width="9" height="9" viewBox="0 0 9 9"><path d="M1.2 4.4 L4.4 7.6 L8.6 2.4" stroke="#000" stroke-width="2" fill="none"/></svg></i><span>C24</span></div><div class="it" style="left:5px;top:183px"><i class="sq"><i class="dt" style="background:#00dc00"></i></i><i class="cb"><svg class="ck" width="9" height="9" viewBox="0 0 9 9"><path d="M1.2 4.4 L4.4 7.6 L8.6 2.4" stroke="#000" stroke-width="2" fill="none"/></svg></i><span>C25</span></div><div class="it" style="left:90px;top:183px"><i class="sq"><i class="dt" style="background:#0000dc"></i></i><i class="cb"><svg class="ck" width="9" height="9" viewBox="0 0 9 9"><path d="M1.2 4.4 L4.4 7.6 L8.6 2.4" stroke="#000" stroke-width="2" fill="none"/></svg></i><span>C26</span></div><div class="it" style="left:5px;top:203px"><i class="sq"><i class="dt" style="background:#dcdc00"></i></i><i class="cb"><svg class="ck" width="9" height="9" viewBox="0 0 9 9"><path d="M1.2 4.4 L4.4 7.6 L8.6 2.4" stroke="#000" stroke-width="2" fill="none"/></svg></i><span>C27</span></div><div class="it" style="left:90px;top:203px"><i class="sq"><i class="dt" style="background:#00dcdc"></i></i><i class="cb"><svg class="ck" width="9" height="9" viewBox="0 0 9 9"><path d="M1.2 4.4 L4.4 7.6 L8.6 2.4" stroke="#000" stroke-width="2" fill="none"/></svg></i><span>C28</span></div><div class="it" style="left:5px;top:223px"><i class="sq"><i class="dt" style="background:#dc00dc"></i></i><i class="cb"><svg class="ck" width="9" height="9" viewBox="0 0 9 9"><path d="M1.2 4.4 L4.4 7.6 L8.6 2.4" stroke="#000" stroke-width="2" fill="none"/></svg></i><span>C29</span></div><div class="it" style="left:90px;top:223px"><i class="sq"><i class="dt" style="background:#b4b4b4"></i></i><i class="cb"><svg class="ck" width="9" height="9" viewBox="0 0 9 9"><path d="M1.2 4.4 L4.4 7.6 L8.6 2.4" stroke="#000" stroke-width="2" fill="none"/></svg></i><span>C30</span></div><div class="it" style="left:5px;top:243px"><i class="sq"><i class="dt" style="background:#000000"></i></i><i class="cb"><svg class="ck" width="9" height="9" viewBox="0 0 9 9"><path d="M1.2 4.4 L4.4 7.6 L8.6 2.4" stroke="#000" stroke-width="2" fill="none"/></svg></i><span>C32</span></div><div class="it" style="left:90px;top:243px"><i class="sq"><i class="dt" style="background:#dc0000"></i></i><i class="cb"><svg class="ck" width="9" height="9" viewBox="0 0 9 9"><path d="M1.2 4.4 L4.4 7.6 L8.6 2.4" stroke="#000" stroke-width="2" fill="none"/></svg></i><span>C33</span></div><div class="it" style="left:5px;top:263px"><i class="sq"><i class="dt" style="background:#00dc00"></i></i><i class="cb"><svg class="ck" width="9" height="9" viewBox="0 0 9 9"><path d="M1.2 4.4 L4.4 7.6 L8.6 2.4" stroke="#000" stroke-width="2" fill="none"/></svg></i><span>C34</span></div><div class="it" style="left:90px;top:263px"><i class="sq"><i class="dt" style="background:#0000dc"></i></i><i class="cb"><svg class="ck" width="9" height="9" viewBox="0 0 9 9"><path d="M1.2 4.4 L4.4 7.6 L8.6 2.4" stroke="#000" stroke-width="2" fill="none"/></svg></i><span>C35</span></div><div class="it" style="left:5px;top:283px"><i class="sq"><i class="dt" style="background:#dcdc00"></i></i><i class="cb"><svg class="ck" width="9" height="9" viewBox="0 0 9 9"><path d="M1.2 4.4 L4.4 7.6 L8.6 2.4" stroke="#000" stroke-width="2" fill="none"/></svg></i><span>C36</span></div><div class="it" style="left:90px;top:283px"><i class="sq"><i class="dt" style="background:#00dcdc"></i></i><i class="cb"><svg class="ck" width="9" height="9" viewBox="0 0 9 9"><path d="M1.2 4.4 L4.4 7.6 L8.6 2.4" stroke="#000" stroke-width="2" fill="none"/></svg></i><span>C37</span></div><div class="it" style="left:5px;top:303px"><i class="sq"><i class="dt" style="background:#dc00dc"></i></i><i class="cb"><svg class="ck" width="9" height="9" viewBox="0 0 9 9"><path d="M1.2 4.4 L4.4 7.6 L8.6 2.4" stroke="#000" stroke-width="2" fill="none"/></svg></i><span>C38</span></div><div class="it" style="left:90px;top:303px"><i class="sq"><i class="dt" style="background:#b4b4b4"></i></i><i class="cb"><svg class="ck" width="9" height="9" viewBox="0 0 9 9"><path d="M1.2 4.4 L4.4 7.6 L8.6 2.4" stroke="#000" stroke-width="2" fill="none"/></svg></i><span>C39</span></div><div class="it" style="left:5px;top:323px"><i class="sq"><i class="dt" style="background:#000000"></i></i><i class="cb"><svg class="ck" width="9" height="9" viewBox="0 0 9 9"><path d="M1.2 4.4 L4.4 7.6 L8.6 2.4" stroke="#000" stroke-width="2" fill="none"/></svg></i><span>C40</span></div><div class="it" style="left:90px;top:323px"><i class="sq"><i class="dt" style="background:#dc0000"></i></i><i class="cb"><svg class="ck" width="9" height="9" viewBox="0 0 9 9"><path d="M1.2 4.4 L4.4 7.6 L8.6 2.4" stroke="#000" stroke-width="2" fill="none"/></svg></i><span>C41</span></div><div class="it" style="left:5px;top:343px"><i class="sq"><i class="dt" style="background:#00dc00"></i></i><i class="cb"><svg class="ck" width="9" height="9" viewBox="0 0 9 9"><path d="M1.2 4.4 L4.4 7.6 L8.6 2.4" stroke="#000" stroke-width="2" fill="none"/></svg></i><span>C42</span></div></div>
  <div class="sbv tr">
    <div class="bt" style="left:0;top:0"><svg width="15" height="15" shape-rendering="crispEdges"><path d="M3 9h7v-1h-1v-1h-1v-1h-1v-1h-1v1h-1v1h-1v1h-1z" fill="#fff" transform="translate(1,1)"/><path d="M3 9h7v-1h-1v-1h-1v-1h-1v-1h-1v1h-1v1h-1v1h-1z" fill="#a0a0a0"/></svg></div>
    <div class="bt" style="left:0;top:332px"><svg width="15" height="15" shape-rendering="crispEdges"><path d="M3 5h7v1h-1v1h-1v1h-1v1h-1v-1h-1v-1h-1v-1h-1z" fill="#fff" transform="translate(1,1)"/><path d="M3 5h7v1h-1v1h-1v1h-1v1h-1v-1h-1v-1h-1v-1h-1z" fill="#a0a0a0"/></svg></div>
  </div>
  <div class="sbh tr">
    <div class="bt" style="left:0;top:0"><svg width="15" height="15" shape-rendering="crispEdges"><path d="M9 3v7h-1v-1h-1v-1h-1v-1h-1v-1h1v-1h1v-1h1v-1z" fill="#fff" transform="translate(1,1)"/><path d="M9 3v7h-1v-1h-1v-1h-1v-1h-1v-1h1v-1h1v-1h1v-1z" fill="#a0a0a0"/></svg></div>
    <div class="bt" style="left:152px;top:0"><svg width="15" height="15" shape-rendering="crispEdges"><path d="M5 3v7h1v-1h1v-1h1v-1h1v-1h-1v-1h-1v-1h-1v-1z" fill="#fff" transform="translate(1,1)"/><path d="M5 3v7h1v-1h1v-1h1v-1h1v-1h-1v-1h-1v-1h-1v-1z" fill="#a0a0a0"/></svg></div>
  </div>
  <div class="cn"></div>
 </div></div>
</div>
<div id="nav">
 <svg style="position:absolute;left:0;top:0" width="190" height="40" viewBox="760 430 190 40" shape-rendering="crispEdges">
  <path d="M775.5 450.5 L844 434.5 L847.5 434.5 L855.5 450.5 Z" fill="#0000c8" stroke="#000" stroke-width="1"/>
  <path d="M855.5 450.5 L936 450.5 L867 466.2 L863.5 466.2 Z" fill="#0000c8" stroke="#000" stroke-width="1"/>
  <path d="M775 450.5 H937" stroke="#000" stroke-width="1" fill="none"/>
 </svg>
 <div class="t" style="left:101px;top:3px;letter-spacing:-0.6px">Nav</div>
 <div class="t" style="left:52px;top:22px">Studio</div>
</div>
</body></html>
